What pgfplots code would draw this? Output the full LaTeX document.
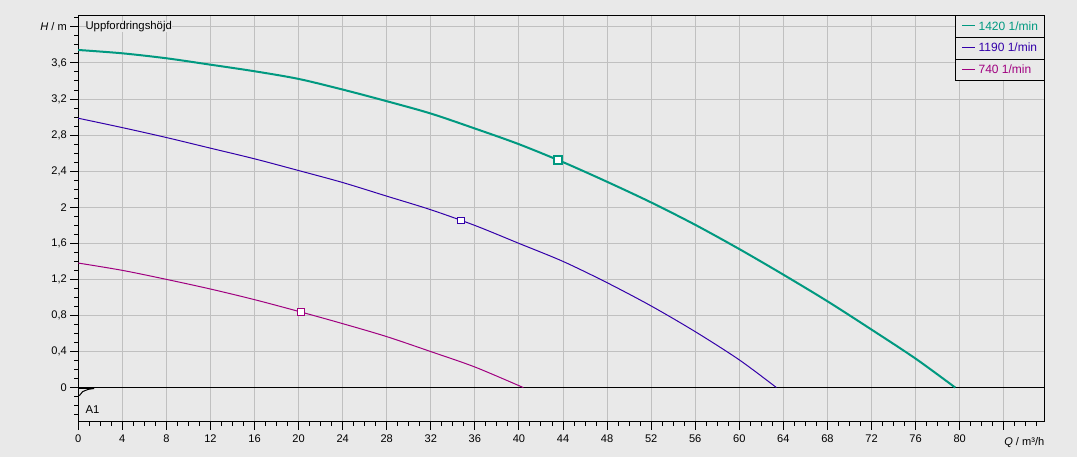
\documentclass[border=0pt]{standalone}
\usepackage{pgfplots}
\pgfplotsset{compat=1.18}
\usepackage{fontspec}
\setmainfont{Liberation Sans}
\usetikzlibrary{calc}
\definecolor{bg}{RGB}{233,233,233}
\definecolor{gridc}{RGB}{192,192,192}
\definecolor{cA}{RGB}{0,153,128}
\definecolor{cB}{RGB}{51,0,170}
\definecolor{cC}{RGB}{160,0,128}
\begin{document}
\begin{tikzpicture}[x=0.75pt,y=0.75pt]
\fill[bg] (0,0) rectangle (1077,457);
\useasboundingbox (0,0) rectangle (1077,457);
\begin{axis}[
  at={(71,39)}, anchor=south west,
  scale only axis, width=724.7pt, height=305pt,
  xmin=0, xmax=87.7, ymin=-0.38, ymax=4.13,
  axis background/.style={fill=bg},
  axis line style={black, line width=0.75pt},
  xtick={0,4,8,12,16,20,24,28,32,36,40,44,48,52,56,60,64,68,72,76,80,84},
  xticklabels={0,4,8,12,16,20,24,28,32,36,40,44,48,52,56,60,64,68,72,76,80,{}},
  ytick={0,0.4,0.8,1.2,1.6,2,2.4,2.8,3.2,3.6,4},
  yticklabels={0,{0,4},{0,8},{1,2},{1,6},2,{2,4},{2,8},{3,2},{3,6},{\textit{H} / m}},
  minor xtick={0,1,...,87},
  minor ytick={-0.3,-0.2,-0.1,0,0.1,0.2,0.3,0.4,0.5,0.6,0.7,0.8,0.9,1,1.1,1.2,1.3,1.4,1.5,1.6,1.7,1.8,1.9,2,2.1,2.2,2.3,2.4,2.5,2.6,2.7,2.8,2.9,3,3.1,3.2,3.3,3.4,3.5,3.6,3.7,3.8,3.9,4,4.1},
  xtick pos=bottom, ytick pos=left,
  tick align=outside,
  major tick length=6pt, minor tick length=3pt,
  tick style={black, line width=0.75pt},
  grid=major,
  major grid style={gridc, line width=0.75pt},
  tick label style={font=\fontsize{8.3}{9.6}\selectfont, text=black},
  yticklabel style={xshift=1pt},
  xlabel={\textit{Q} / m³/h},
  xlabel style={at={(rel axis cs:1,0)}, anchor=base east, yshift=-17.5pt, inner sep=0pt, font=\fontsize{8.3}{9.6}\selectfont},
  legend style={name=leg, at={(rel axis cs:1,1)}, anchor=north east, draw=black, line width=0.75pt, fill=bg,
    inner xsep=4.5pt, inner ysep=2.5pt, row sep=5pt, column sep=2.25pt,
    font=\fontsize{9}{10}\selectfont,
    nodes={inner sep=0pt, text height=8.25pt, text depth=3pt}},
  legend cell align=left,
  legend image code/.code={\draw[#1, line width=0.75pt] (0pt,0.6pt) -- (9.75pt,0.6pt);},
]
\draw[black, line width=0.75pt] (axis cs:0,0) -- (axis cs:87.7,0);
\addplot[cA, line width=1.5pt, smooth, tension=0.5] coordinates {
(0,3.744)(4,3.707)(8,3.652)(12,3.581)(16,3.508)(20,3.423)(24,3.305)(28,3.176)(32,3.039)(36,2.873)(40,2.699)(44,2.50)(48,2.282)(52,2.053)(56,1.805)(60,1.536)(64,1.252)(68,0.957)(72,0.643)(76,0.321)(79.6,0)};
\addlegendentry{\textcolor{cA}{1420 1/min}}
\addplot[cB, line width=0.75pt, smooth, tension=0.5] coordinates {
(0,2.987)(4,2.883)(8,2.773)(12,2.655)(16,2.537)(20,2.407)(24,2.274)(28,2.123)(32,1.972)(36,1.798)(40,1.599)(44,1.399)(48,1.163)(52,0.905)(56,0.62)(60,0.307)(63.37,0)};
\addlegendentry{\textcolor{cB}{1190 1/min}}
\addplot[cC, line width=0.75pt, smooth, tension=0.5] coordinates {
(0,1.381)(4,1.30)(8,1.20)(12,1.093)(16,0.975)(20,0.845)(24,0.709)(28,0.565)(32,0.399)(36,0.228)(40.4,0)};
\addlegendentry{\textcolor{cC}{740 1/min}}
\addplot[cA, line width=1.5pt, only marks, mark=square*, mark size=3pt, mark options={fill=white}, forget plot] coordinates {(43.5,2.522)};
\addplot[cB, line width=0.75pt, only marks, mark=square*, mark size=2.6pt, mark options={fill=white}, forget plot] coordinates {(34.74,1.853)};
\addplot[cC, line width=0.75pt, only marks, mark=square*, mark size=2.6pt, mark options={fill=white}, forget plot] coordinates {(20.2,0.834)};
\addplot[black, line width=1.5pt, forget plot] coordinates {(0,0)(0,-0.16)};
\addplot[black, line width=1.5pt, forget plot] coordinates {(0,-0.006)(1.45,-0.006)};
\addplot[black, line width=0.75pt, forget plot] coordinates {(0.1,-0.09)(0.4,-0.045)(0.9,-0.02)(1.45,-0.01)};
\node[anchor=west, inner sep=0pt, font=\fontsize{8.5}{10}\selectfont, fill=bg] at (axis cs:0.64,4.0) {Uppfordringshöjd};
\node[anchor=west, inner sep=0pt, font=\fontsize{8.5}{10}\selectfont] at (axis cs:0.64,-0.24) {A1};
\end{axis}
\draw[black, line width=0.75pt] ($(leg.north west)!1/3!(leg.south west)$) -- ($(leg.north east)!1/3!(leg.south east)$);
\draw[black, line width=0.75pt] ($(leg.north west)!2/3!(leg.south west)$) -- ($(leg.north east)!2/3!(leg.south east)$);
\end{tikzpicture}
\end{document}
